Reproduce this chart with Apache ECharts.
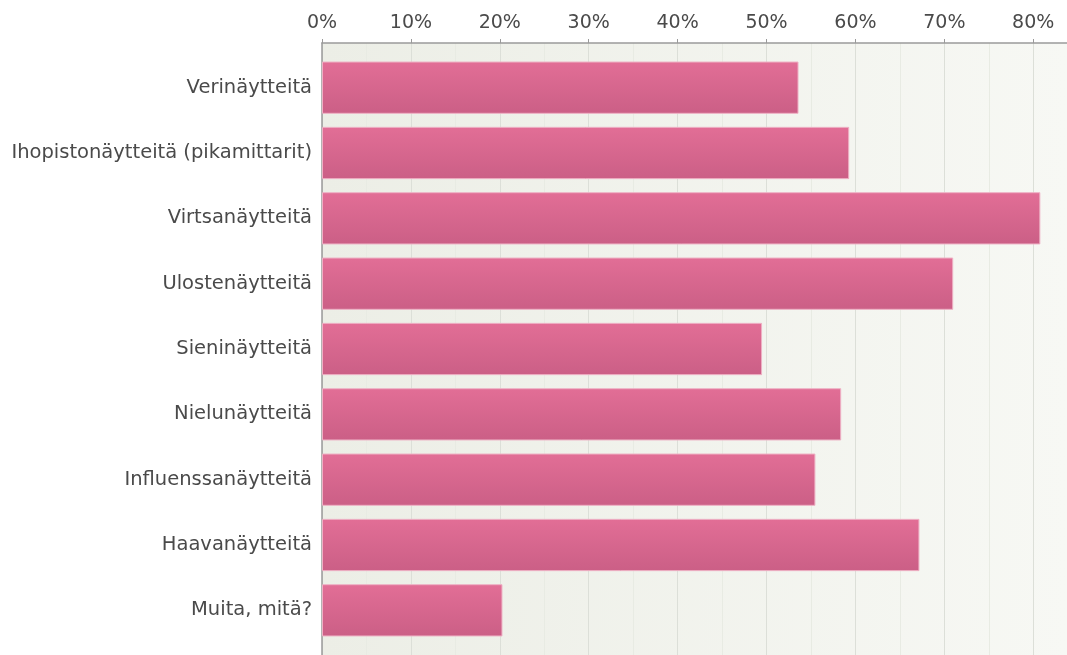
<!DOCTYPE html>
<html>
<head>
<meta charset="utf-8">
<script src="https://cdn.jsdelivr.net/npm/echarts@6/dist/echarts.min.js"></script>
<style>
  html, body { margin: 0; padding: 0; background: #ffffff; }
  #chart { width: 1067px; height: 655px; }
</style>
</head>
<body>
<div id="chart"></div>
<script>
// Survey answers: share of respondents (%) per sample type
const categories = [
  'Verinäytteitä',
  'Ihopistonäytteitä (pikamittarit)',
  'Virtsanäytteitä',
  'Ulostenäytteitä',
  'Sieninäytteitä',
  'Nielunäytteitä',
  'Influenssanäytteitä',
  'Haavanäytteitä',
  'Muita, mitä?'
];
const shares = [53.6, 59.3, 80.8, 71.0, 49.5, 58.4, 55.5, 67.2, 20.3];
const tickStep = 10;
const axisMax = 83.8;

const FONT = '"DejaVu Sans", Verdana, sans-serif';
const TEXT = '#4a4a4a';

const chart = echarts.init(document.getElementById('chart'), null, { renderer: 'canvas' });

chart.setOption({
  animation: false,
  grid: [
    // frame: background, top scale and left rule
    {
      left: 322, right: 0, top: 43, bottom: 0,
      show: true,
      borderWidth: 0,
      backgroundColor: {
        type: 'linear', x: 0, y: 0, x2: 1, y2: 0,
        colorStops: [
          { offset: 0, color: '#eceee6' },
          { offset: 1, color: '#f7f8f4' }
        ]
      }
    },
    // bars
    { left: 322, right: 0, top: 55, bottom: 12 }
  ],
  xAxis: [
    {
      gridIndex: 0,
      type: 'value',
      position: 'top',
      min: 0,
      max: axisMax,
      interval: tickStep,
      axisLine: { show: true, onZero: false, lineStyle: { color: '#9a9a9a', width: 1.5 } },
      axisTick: { show: true, length: 4, lineStyle: { color: '#9a9a9a' } },
      axisLabel: {
        formatter: v => v + '%',
        showMaxLabel: false,
        margin: 10,
        color: TEXT,
        fontFamily: FONT,
        fontSize: 19
      },
      splitLine: { show: true, lineStyle: { color: '#dcdfd8', width: 1 } },
      minorTick: { show: false, splitNumber: 2 },
      minorSplitLine: { show: true, lineStyle: { color: '#e8ebe3', width: 1 } }
    },
    {
      gridIndex: 1,
      type: 'value',
      min: 0,
      max: axisMax,
      show: false
    }
  ],
  yAxis: [
    {
      gridIndex: 0,
      type: 'value',
      min: 0,
      max: 1,
      axisLine: { show: true, onZero: false, lineStyle: { color: '#9a9a9a', width: 1.5 } },
      axisTick: { show: false },
      axisLabel: { show: false },
      splitLine: { show: false }
    },
    {
      gridIndex: 1,
      type: 'category',
      inverse: true,
      data: categories,
      axisLine: { show: false },
      axisTick: { show: false },
      splitLine: { show: false },
      axisLabel: {
        margin: 10,
        color: TEXT,
        fontFamily: FONT,
        fontSize: 19.5
      }
    }
  ],
  series: [
    {
      type: 'bar',
      xAxisIndex: 1,
      yAxisIndex: 1,
      data: shares,
      barWidth: '80%',
      itemStyle: {
        color: {
          type: 'linear', x: 0, y: 0, x2: 0, y2: 1,
          colorStops: [
            { offset: 0, color: '#e26e96' },
            { offset: 1, color: '#cb5f86' }
          ]
        },
        borderColor: '#eeb0c4',
        borderWidth: 1
      }
    }
  ]
});
</script>
</body>
</html>
